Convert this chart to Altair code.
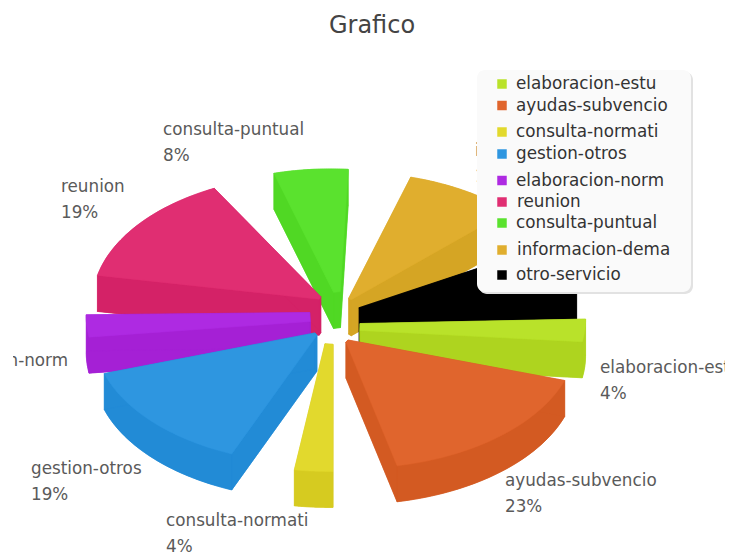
import altair as alt
import numpy as np
import pandas as pd

# ---- what the chart shows ------------------------------------------------
categories = ["elaboracion-estu", "ayudas-subvencio", "consulta-normati", "gestion-otros",
              "elaboracion-norm", "reunion", "consulta-puntual", "informacion-dema", "otro-servicio"]
shares = [4, 23, 4, 19, 5, 19, 8, 12, 6]
top_colors = ["#b9e22a", "#e0652d", "#e2d92d", "#2e96e0", "#ae2ae2", "#e02e72", "#5ae22e", "#e0ae2e", "#000000"]
side_colors = ["#aed41f", "#d35a22", "#d6cb20", "#228bd6", "#a520d5", "#d42267", "#50d824", "#d5a524", "#000000"]

# ---- 3-D pie model --------------------------------------------------------
start_angle = [-3.5, 17.5, 89, 112, 171, 190, 253, 286, 329]
end_angle = [6.6, 77, 99, 162, 181, 241, 273, 316, 348]
hub_x = [360, 347, 329, 316, 310, 320, 337, 350, 360]
hub_y = [327, 341, 344, 334, 317, 298, 292, 299, 310]
hub_width = [7, 3, 8, 3, 9, 3, 7, 3, 5]
radius_start = [1.0, 1.01, 0.98, 0.995, 0.99, 1.0, 0.955, 0.975, 0.98]
radius_end = [0.99, 0.985, 0.98, 0.985, 0.99, 0.965, 0.945, 0.975, 0.98]
RX, RY, DEPTH = 226, 130, 36
draw_order = [6, 5, 4, 3, 7, 8, 0, 2, 1]

rows = []
face_id = 0


def add_face(xs, ys, color):
    global face_id
    xs, ys = list(xs) + [xs[0]], list(ys) + [ys[0]]
    for k, (px, py) in enumerate(zip(xs, ys)):
        rows.append({"x": float(px), "y": float(py), "k": k, "face": f"f{face_id:03d}", "c": color})
    face_id += 1


for i in draw_order:
    t = np.radians(np.linspace(start_angle[i], end_angle[i], 40))
    r = np.linspace(radius_start[i], radius_end[i], 40)
    ax = list(hub_x[i] + RX * r * np.cos(t))
    ay = list(hub_y[i] + RY * r * np.sin(t))
    mid = np.radians((start_angle[i] + end_angle[i]) / 2)
    nx, ny = -np.sin(mid) * hub_width[i] / 2, np.cos(mid) * hub_width[i] / 2
    end_x, end_y = hub_x[i] + nx, hub_y[i] + ny
    start_x, start_y = hub_x[i] - nx, hub_y[i] - ny
    outline_x = [start_x] + ax + [end_x]
    outline_y = [start_y] + ay + [end_y]
    # bottom face, then the swept walls, then the lit top face
    add_face(outline_x, [v + DEPTH for v in outline_y], side_colors[i])
    add_face(ax + ax[::-1], ay + [v + DEPTH for v in ay[::-1]], side_colors[i])
    add_face([start_x, ax[0], ax[0], start_x],
             [start_y, ay[0], ay[0] + DEPTH, start_y + DEPTH], side_colors[i])
    add_face([end_x, ax[-1], ax[-1], end_x],
             [end_y, ay[-1], ay[-1] + DEPTH, end_y + DEPTH], side_colors[i])
    add_face([start_x, end_x, end_x, start_x],
             [start_y, end_y, end_y + DEPTH, start_y + DEPTH], side_colors[i])
    add_face(outline_x, outline_y, top_colors[i])

faces = pd.DataFrame(rows)

# ---- labels ---------------------------------------------------------------
label_names = ["elaboracion-estu", "ayudas-subvencio", "consulta-normati", "gestion-otros",
               "elaboracion-norm", "reunion", "consulta-puntual", "informacion-dema"]
label_share = ["4%", "23%", "4%", "19%", "5%", "19%", "8%", "12%"]
label_x = [600, 505, 166, 31, -80, 61, 163, 475]
label_y = [368, 481, 521, 469, 361, 187, 130, 151]
LINE_GAP = 26

labels = pd.DataFrame(
    {"x": label_x + label_x, "y": label_y + [v + LINE_GAP for v in label_y], "t": label_names + label_share}
)

legend_y = [84, 105.5, 132, 154, 180.5, 202, 223, 250, 275]
legend_df = pd.DataFrame({"name": categories, "y": legend_y, "c": top_colors,
                          "sx": [502] * 9, "tx": [516, 516, 516, 516, 516, 517, 516, 517, 516]})

X = alt.Scale(domain=[13, 725])
Y = alt.Scale(domain=[553, 48])
xq = alt.X("x:Q", scale=X, axis=None)
yq = alt.Y("y:Q", scale=Y, axis=None)
FONT = "DejaVu Sans"

label_layer = alt.Chart(labels).mark_text(
    align="left", baseline="middle", font=FONT, fontSize=16.8, color="#5a5a5a", clip=True
).encode(x=xq, y=yq, text="t:N")

slice_layer = alt.Chart(faces).mark_line(filled=True, strokeWidth=0.5, interpolate="linear").encode(
    x=xq, y=yq, order="k:Q", detail="face:N",
    color=alt.Color("c:N", scale=None), stroke=alt.Stroke("c:N", scale=None)
)

box = pd.DataFrame({"x": [477], "x2": [691], "y": [70], "y2": [292]})
shadow = pd.DataFrame({"x": [479], "x2": [693], "y": [72], "y2": [294]})
shadow_layer = alt.Chart(shadow).mark_rect(cornerRadius=8, color="#e2e2e2").encode(
    x=xq, x2="x2:Q", y=yq, y2="y2:Q")
box_layer = alt.Chart(box).mark_rect(cornerRadius=8, color="#fafafa").encode(
    x=xq, x2="x2:Q", y=yq, y2="y2:Q")
swatch_layer = alt.Chart(legend_df).mark_square(size=90, opacity=1).encode(
    x=alt.X("sx:Q", scale=X, axis=None), y=yq, color=alt.Color("c:N", scale=None))
legend_text = alt.Chart(legend_df).mark_text(
    align="left", baseline="middle", font=FONT, fontSize=16.8, color="#333333"
).encode(x=alt.X("tx:Q", scale=X, axis=None), y=yq, text="name:N")

chart = alt.layer(
    label_layer, slice_layer, shadow_layer, box_layer, swatch_layer, legend_text
).properties(
    width=712, height=505,
    padding={"left": 5, "top": 40, "right": 0, "bottom": 0},
    autosize=alt.AutoSizeParams(type="none"),
    title=alt.TitleParams("Grafico", font=FONT, fontSize=24, fontWeight="normal", color="#444444",
                          anchor="middle", dx=3, offset=10),
).configure_view(stroke=None)

chart.save("out.html", embed_options={"renderer": "svg", "actions": False})
